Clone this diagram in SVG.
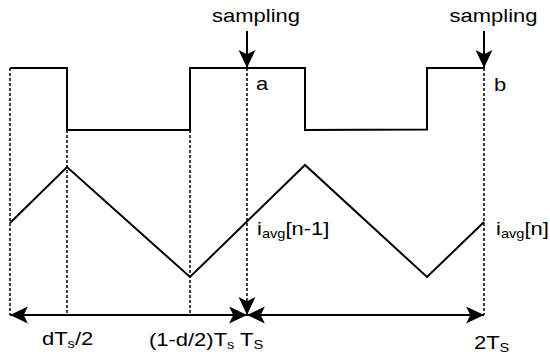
<svg xmlns="http://www.w3.org/2000/svg" width="550" height="361" viewBox="0 0 550 361">
<style>
.w{fill:none;stroke:#000;stroke-width:2;stroke-linejoin:miter}
.d{fill:none;stroke:#000;stroke-width:1.5;stroke-dasharray:3 2}
.ax{fill:none;stroke:#000;stroke-width:2}
text{font-family:"Liberation Sans",Arial,Helvetica,sans-serif;font-size:18px;fill:#000}
.sub{font-size:12px}
</style>
<defs>
<marker id="ah" markerUnits="userSpaceOnUse" markerWidth="20" markerHeight="20" viewBox="-18 -9 19 18" refX="0" refY="0" orient="auto-start-reverse">
<path d="M0,0 L-17,-8 L-13,0 L-17,8 Z" fill="#000"/>
</marker>
</defs>
<rect width="550" height="361" fill="#fff"/>
<g id="guides">
<line class="d" x1="10" y1="68" x2="10" y2="315"/>
<line class="d" x1="67" y1="130" x2="67" y2="315"/>
<line class="d" x1="190" y1="130" x2="190" y2="315"/>
<line class="d" x1="484" y1="68" x2="484" y2="315"/>
</g>
<g id="switching-wave">
<polyline class="w" points="10,68 67,68 67,130 190,130 190,68 305,68 305,130 427,129.5 427,68 484,68"/>
</g>
<g id="current-wave">
<polyline class="w" points="10,223 67,167 190,277 305,165 427,277 484,222"/>
</g>
<g id="connectors">
<line class="ax" x1="247" y1="31" x2="247" y2="68" marker-end="url(#ah)"/>
<line class="ax" x1="484" y1="31" x2="484" y2="68" marker-end="url(#ah)"/>
<line class="d" x1="247" y1="68" x2="247" y2="315" marker-end="url(#ah)"/>
<line class="ax" x1="10" y1="315" x2="247" y2="315" marker-start="url(#ah)" marker-end="url(#ah)"/>
<line class="ax" x1="247" y1="315" x2="484" y2="315" marker-start="url(#ah)" marker-end="url(#ah)"/>
</g>
<g id="labels">
<text transform="translate(256,22) scale(1.22,1)" text-anchor="middle">sampling</text>
<text transform="translate(493.5,22) scale(1.22,1)" text-anchor="middle">sampling</text>
<text transform="translate(256,90) scale(1.22,1)">a</text>
<text transform="translate(494,91) scale(1.22,1)">b</text>
<text transform="translate(257,235) scale(1.22,1)">i<tspan class="sub" dy="3">avg</tspan><tspan dy="-3">[n-1]</tspan></text>
<text transform="translate(496,235) scale(1.22,1)">i<tspan class="sub" dy="3">avg</tspan><tspan dy="-3">[n]</tspan></text>
<text transform="translate(42,345) scale(1.22,1)">dT<tspan class="sub" dy="3">s</tspan><tspan dy="-3">/2</tspan></text>
<text transform="translate(149,346) scale(1.22,1)">(1-d/2)T<tspan class="sub" dy="3">s</tspan><tspan dy="-3"> T</tspan><tspan class="sub" dy="3">S</tspan></text>
<text transform="translate(474,349) scale(1.22,1)">2T<tspan class="sub" dy="3">S</tspan></text>
</g>
</svg>
